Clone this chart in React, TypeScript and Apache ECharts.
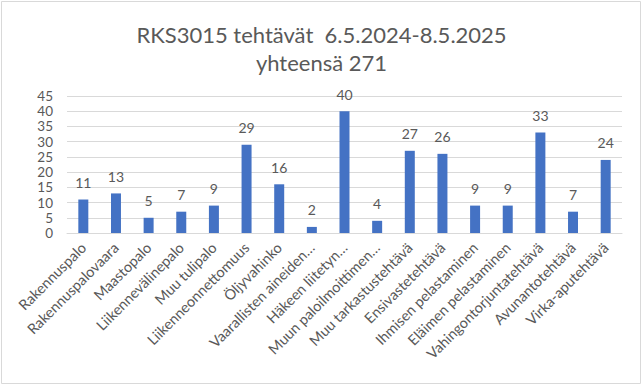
import React, { useEffect, useRef } from "react";
import * as echarts from "echarts";

const titleLines = ["RKS3015 tehtävät  6.5.2024-8.5.2025", "yhteensä 271"];

const categories = [
  "Rakennuspalo",
  "Rakennuspalovaara",
  "Maastopalo",
  "Liikennevälinepalo",
  "Muu tulipalo",
  "Liikenneonnettomuus",
  "Öljyvahinko",
  "Vaarallisten aineiden…",
  "Häkeen liitetyn…",
  "Muun paloilmoittimen…",
  "Muu tarkastustehtävä",
  "Ensivastetehtävä",
  "Ihmisen pelastaminen",
  "Eläimen pelastaminen",
  "Vahingontorjuntatehtävä",
  "Avunantotehtävä",
  "Virka-aputehtävä",
];

const values = [11, 13, 5, 7, 9, 29, 16, 2, 40, 4, 27, 26, 9, 9, 33, 7, 24];

const yMin = 0;
const yMax = 45;
const yInterval = 5;

const FONT = "Lato, 'Open Sans', sans-serif";
const TEXT = "#595959";

export default function App() {
  const ref = useRef<HTMLDivElement>(null);
  useEffect(() => {
    if (!ref.current) return;
    const chart = echarts.init(ref.current, null, { renderer: "svg" });
    chart.setOption({
      animation: false,
      backgroundColor: "#ffffff",
      title: {
        text: titleLines.join("\n"),
        left: "center",
        top: 15,
        textStyle: {
          fontFamily: FONT,
          fontSize: 22,
          fontWeight: "normal",
          color: TEXT,
          lineHeight: 28,
        },
      },
      graphic: [
        {
          type: "rect",
          shape: { x: 1.5, y: 1.5, width: 639, height: 382 },
          style: { fill: "none", stroke: "#d9d9d9", lineWidth: 1 },
          silent: true,
        },
      ],
      grid: { left: 67, right: 21, top: 96, bottom: 153, containLabel: false },
      xAxis: {
        type: "category",
        data: categories,
        axisLine: { show: true, lineStyle: { color: "#d9d9d9", width: 1 } },
        axisTick: { show: false },
        axisLabel: {
          interval: 0,
          rotate: 45,
          fontFamily: FONT,
          fontSize: 14.5,
          color: TEXT,
          margin: 12,
        },
      },
      yAxis: {
        type: "value",
        min: yMin,
        max: yMax,
        interval: yInterval,
        axisLine: { show: false },
        axisTick: { show: false },
        splitLine: { lineStyle: { color: "#d9d9d9", width: 1 } },
        axisLabel: {
          fontFamily: FONT,
          fontSize: 13.5,
          lineHeight: 14,
          color: TEXT,
          margin: 14,
        },
      },
      series: [
        {
          type: "bar",
          data: values,
          barWidth: 10,
          itemStyle: { color: "#4472C4" },
          label: {
            show: true,
            position: "top",
            distance: 10,
            fontFamily: FONT,
            fontSize: 14,
            color: TEXT,
          },
        },
      ],
    });
    return () => chart.dispose();
  }, []);
  return (
    <div
      ref={ref}
      style={{ position: "absolute", left: 0, top: 0, width: 643, height: 386 }}
    />
  );
}
